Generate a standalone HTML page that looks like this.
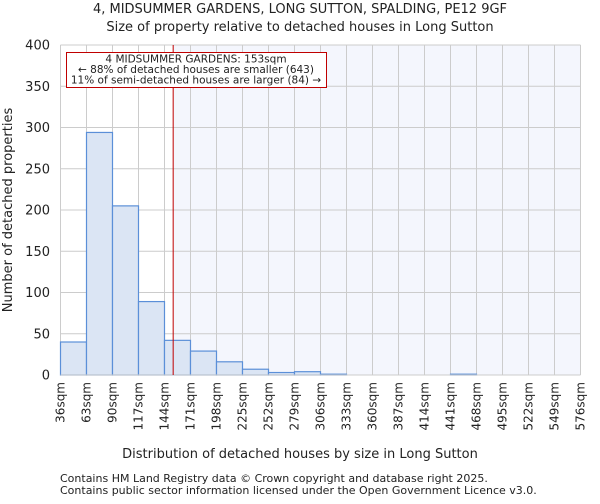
<!DOCTYPE html>
<html><head><meta charset="utf-8"><style>
body{margin:0;background:#fff;font-family:"DejaVu Sans","Liberation Sans",sans-serif;}
svg text{font-family:"DejaVu Sans","Liberation Sans",sans-serif;fill:#222;}
</style></head><body>
<svg id="chart" width="600" height="500">
<text x="300" y="13" text-anchor="middle" font-size="13">4, MIDSUMMER GARDENS, LONG SUTTON, SPALDING, PE12 9GF</text>
<text x="300" y="31" text-anchor="middle" font-size="13">Size of property relative to detached houses in Long Sutton</text>
<g id="plot"></g>
<text x="300" y="458" text-anchor="middle" font-size="13">Distribution of detached houses by size in Long Sutton</text>
<text transform="translate(12,210) rotate(-90)" text-anchor="middle" font-size="13">Number of detached properties</text>
<text x="60" y="482" font-size="11">Contains HM Land Registry data © Crown copyright and database right 2025.</text>
<text x="60" y="494" font-size="11">Contains public sector information licensed under the Open Government Licence v3.0.</text>
</svg>
<script>
const binStarts=[36,63,90,117,144,171,198,225,252,279,306,333,360,387,414,441,468,495,522,549];
const counts=[40,294,205,89,42,29,16,7,3,4,1,0,0,0,0,1,0,0,0,0];
const tickLabels=["36sqm","63sqm","90sqm","117sqm","144sqm","171sqm","198sqm","225sqm","252sqm","279sqm","306sqm","333sqm","360sqm","387sqm","414sqm","441sqm","468sqm","495sqm","522sqm","549sqm","576sqm"];
const yTicks=[0,50,100,150,200,250,300,350,400];
const propertySize=153;
const binWidth=27;
const L=60.5,R=580.5,T=45,B=375,xMin=36,xMax=576,yMax=400;
const xs=v=>L+(v-xMin)/(xMax-xMin)*(R-L);
const ys=v=>B-v/yMax*(B-T);
const NS="http://www.w3.org/2000/svg";
const g=document.getElementById('plot');
function mk(t,a){const e=document.createElementNS(NS,t);for(const k in a)e.setAttribute(k,a[k]);g.appendChild(e);return e;}
const px=xs(propertySize);
const sh=mk('rect',{x:px,y:T,width:R-px,height:B-T,fill:'#f4f6fd'});


tickLabels.forEach((lab,i)=>{const v=xMin+i*binWidth;const x=xs(v);
 const l=mk('line',{x1:x,x2:x,y1:T,y2:B,stroke:'#cccccc','stroke-width':1});
 
 
 const t=mk('text',{transform:`translate(${x+4},382) rotate(-90)`,'text-anchor':'end','font-size':12});
 t.textContent=lab;
 
 
});
yTicks.forEach(v=>{const y=ys(v);
 const l=mk('line',{x1:L,x2:R,y1:y,y2:y,stroke:'#cccccc','stroke-width':1});
 
 
 const t=mk('text',{x:50,y:y+4.5,'text-anchor':'end','font-size':13});
 t.textContent=v;
 
 
});
binStarts.forEach((s,i)=>{const x0=xs(s),x1=xs(s+binWidth),y=ys(counts[i]);
 const r=mk('rect',{x:x0,y:y,width:x1-x0,height:B-y,fill:'#dbe5f4',stroke:'#5b8fd8','stroke-width':1.2});
 
 
});
const ax=mk('line',{x1:L,x2:R,y1:B,y2:B,stroke:'#cccccc'});


const pl=mk('line',{x1:px,x2:px,y1:T,y2:B,stroke:'#c00000','stroke-width':1});


const box=mk('rect',{x:66.5,y:52.5,width:260,height:35,fill:'#fff',stroke:'#c00000','stroke-width':1});


["4 MIDSUMMER GARDENS: 153sqm","← 88% of detached houses are smaller (643)","11% of semi-detached houses are larger (84) →"].forEach((s,i)=>{
 const t=mk('text',{x:196,y:62.5+i*10.5,'text-anchor':'middle','font-size':10.5});
 t.textContent=s;
 
 
});
</script>
</body></html>
